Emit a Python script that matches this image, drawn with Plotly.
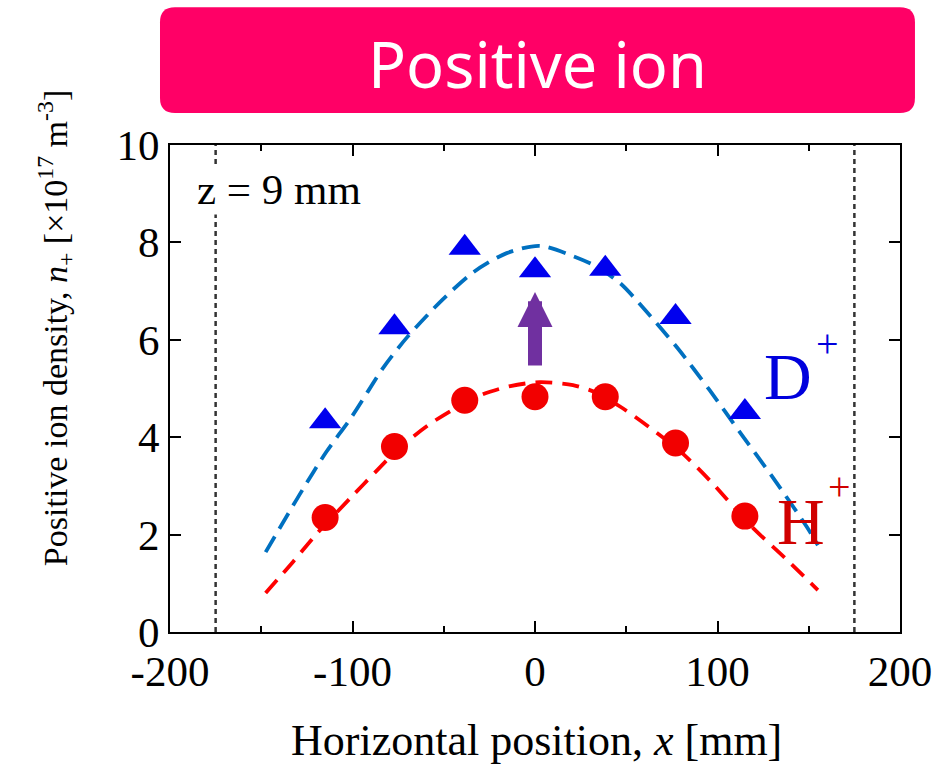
import plotly.graph_objects as go

# ---- data ----
x_pos = [-115, -77, -38.5, 0, 38.5, 77, 115]
d_plus = [4.33, 6.26, 7.89, 7.43, 7.46, 6.47, 4.52]
h_plus = [2.35, 3.81, 4.76, 4.83, 4.83, 3.88, 2.38]

d_fit_x = [-147.6, -127.4, -114.3, -100.4, -82.9, -69.9, -50.8, -33.7, -15.5, 2.6, 20.8, 33.9, 47.0, 60.1, 78.3, 95.6, 112.7, 129.8, 148.9, 155.0]
d_fit_y = [1.64, 2.92, 3.70, 4.42, 5.44, 6.06, 6.82, 7.39, 7.78, 7.93, 7.72, 7.50, 7.15, 6.62, 5.82, 4.97, 4.08, 3.20, 2.16, 1.78]

h_fit_x = [-147.6, -132.4, -119.3, -100.4, -86.3, -75.2, -58.4, -43.4, -28.6, -13.5, 2.6, 20.8, 33.9, 47.0, 62.1, 79.3, 95.6, 118.8, 137.0, 155.0]
h_fit_y = [0.80, 1.45, 2.03, 2.78, 3.33, 3.75, 4.25, 4.60, 4.88, 5.05, 5.13, 5.07, 4.91, 4.62, 4.22, 3.72, 3.12, 2.16, 1.52, 0.86]

boundary_x = [-175, 175]
y_span = [0, 10]
arrow_from, arrow_to = 5.44, 6.98

x_ticks = [-200, -100, 0, 100, 200]
y_ticks = [0, 2, 4, 6, 8, 10]

SERIF = "Liberation Serif"

fig = go.Figure()

for bx in boundary_x:
    fig.add_trace(go.Scatter(x=[bx, bx], y=y_span, mode="lines",
                             line=dict(color="#333333", width=2.5, dash="5px,4px"),
                             hoverinfo="skip", showlegend=False))

fig.add_trace(go.Scatter(x=d_fit_x, y=d_fit_y, mode="lines",
                         line=dict(color="#0070C0", width=3.8, dash="18px,9px", shape="spline",
                                   smoothing=0.8),
                         showlegend=False))
fig.add_trace(go.Scatter(x=h_fit_x, y=h_fit_y, mode="lines",
                         line=dict(color="#FF0000", width=3.8, dash="17px,10px", shape="spline",
                                   smoothing=0.8),
                         showlegend=False))

fig.add_trace(go.Scatter(x=x_pos, y=d_plus, mode="markers",
                         marker=dict(symbol="triangle-up", size=28, color="#0000EE",
                                     line=dict(width=0)),
                         showlegend=False))
fig.add_trace(go.Scatter(x=x_pos, y=h_plus, mode="markers",
                         marker=dict(symbol="circle", size=27, color="#F20000",
                                     line=dict(width=0)),
                         showlegend=False))

axis_common = dict(showgrid=False, zeroline=False, showline=True, linecolor="black",
                   linewidth=2, mirror="ticks", ticks="inside", ticklen=11, tickwidth=2,
                   tickcolor="black", automargin=False,
                   tickfont=dict(family=SERIF, size=43, color="black"))

fig.update_xaxes(range=[-200, 200], tickvals=x_ticks, ticktext=[str(v) for v in x_ticks],
                 minor=dict(ticks="inside", ticklen=6, tickwidth=2, dtick=50, tickcolor="black"),
                 **axis_common)
fig.update_yaxes(range=[0, 10], tickvals=y_ticks, ticktext=[str(v) for v in y_ticks],
                 **axis_common)

# rounded title box (paper coordinates)
u0, u1, v0, v1, rx, ry = -0.0137, 1.0205, 1.0657, 1.283, 0.0205, 0.0308
path = (f"M {u0+rx},{v0} L {u1-rx},{v0} Q {u1},{v0} {u1},{v0+ry} "
        f"L {u1},{v1-ry} Q {u1},{v1} {u1-rx},{v1} L {u0+rx},{v1} "
        f"Q {u0},{v1} {u0},{v1-ry} L {u0},{v0+ry} Q {u0},{v0} {u0+rx},{v0} Z")
fig.add_shape(type="path", xref="paper", yref="paper", path=path,
              fillcolor="#FF0066", line=dict(width=0), layer="below")

C = dict(xanchor="center", yanchor="middle", showarrow=False)
annotations = [
    dict(text="Positive ion", xref="paper", yref="paper", x=0.5034, y=1.168,
         font=dict(family="Noto Sans", size=63, color="white"), **C),
    dict(text="z = 9 mm", xref="x", yref="y", x=-140.3, y=9.08,
         bgcolor="white", font=dict(family=SERIF, size=43, color="black"), **C),
    dict(text="D", xref="x", yref="y", x=138.6, y=5.25,
         font=dict(family=SERIF, size=66, color="#0000DD"), **C),
    dict(text="+", xref="x", yref="y", x=160, y=5.93,
         font=dict(family=SERIF, size=40, color="#0000DD"), **C),
    dict(text="H", xref="x", yref="y", x=146, y=2.26,
         font=dict(family=SERIF, size=66, color="#D00000"), **C),
    dict(text="+", xref="x", yref="y", x=167, y=2.98,
         font=dict(family=SERIF, size=40, color="#D00000"), **C),
    dict(text="", xref="x", yref="y", x=0, y=arrow_to, axref="x", ayref="y",
         ax=0, ay=arrow_from, showarrow=True, arrowhead=2, arrowwidth=14,
         arrowsize=0.5, arrowcolor="#7030A0", standoff=0),
    dict(text="Horizontal position, <i>x</i> [mm]", xref="paper", yref="paper",
         x=0.5021, y=-0.222, font=dict(family=SERIF, size=44, color="black"), **C),
    dict(text="Positive ion density, <i>n</i><sub>+</sub> [×10<sup>17</sup> m<sup>-3</sup>]",
         xref="paper", yref="paper", x=-0.1575, y=0.624, textangle=-90,
         font=dict(family=SERIF, size=34, color="black"), **C),
]
fig.update_layout(annotations=annotations)

fig.update_layout(width=941, height=765, margin=dict(l=170, r=41, t=145, b=133, autoexpand=False),
                  paper_bgcolor="white", plot_bgcolor="white", showlegend=False)

fig.write_html("out.html")
